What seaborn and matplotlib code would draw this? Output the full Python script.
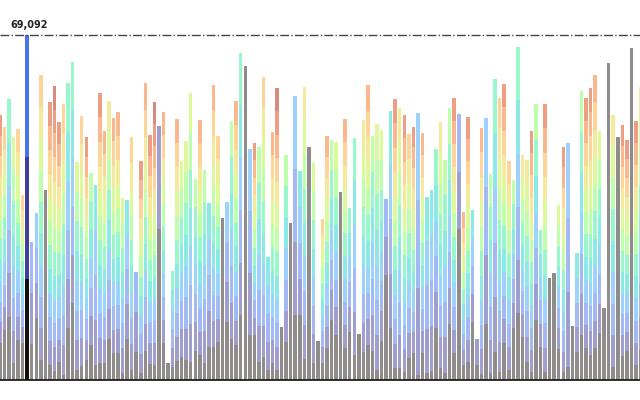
import numpy as np
import matplotlib
matplotlib.use("Agg")
import matplotlib.pyplot as plt
import matplotlib.transforms as mtransforms
import seaborn as sns

sns.set_theme(style="white")
plt.rcParams['font.family'] = ['DejaVu Sans']

# ==================== Data (values in thousands) ====================
# total height of each bar
bar_total = [53.1, 50.7, 56.3, 48.7, 50.3, 37.1, 69.092, 27.6, 33.4, 61.1,
             38.1, 55.7, 58.9, 51.7, 55.3, 59.5, 63.7, 43.7, 52.9, 48.7,
             41.5, 39.1, 57.5, 49.9, 55.9, 52.5, 53.7, 36.5, 36.1, 48.7,
             21.6, 43.9, 59.5, 49.1, 55.7, 50.9, 53.7, 3.4, 21.8, 52.3,
             43.9, 47.9, 57.5, 40.3, 52.1, 42.1, 35.5, 59.1, 48.9, 32.4,
             35.7, 51.9, 55.9, 65.5, 62.9, 46.3, 47.5, 46.7, 60.7, 24.6,
             49.7, 58.5, 10.6, 45.1, 31.4, 56.9, 41.9, 58.7, 46.7, 43.5,
             7.8, 32.3, 48.9, 48.1, 47.7, 37.7, 52.3, 34.5, 48.5, 9.2,
             52.1, 59.1, 48.9, 51.3, 50.1, 36.3, 53.9, 56.3, 54.5, 53.1,
             49.3, 50.7, 53.5, 49.5, 36.7, 38.1, 46.3, 51.7, 44.1, 54.5,
             56.5, 53.3, 33.6, 52.7, 34.1, 8.2, 50.5, 52.5, 41.3, 60.3,
             56.5, 59.3, 43.9, 40.1, 66.7, 45.1, 44.1, 49.9, 55.3, 30.0,
             55.3, 20.4, 21.4, 35.1, 46.7, 47.5, 10.8, 25.4, 57.9, 56.5,
             58.5, 61.1, 49.9, 14.4, 63.5, 53.1, 48.7, 51.1, 48.1, 66.5,
             51.9, 58.7]
# grey base segment of each bar
gray_base = [7.4, 10.0, 12.6, 3.4, 8.0, 7.4, 20.2, 7.2, 12.4, 4.0,
             38.1, 3.0, 1.8, 3.6, 1.0, 10.4, 15.4, 2.0, 2.8, 4.0,
             7.0, 3.0, 3.4, 3.4, 8.2, 5.4, 5.4, 1.4, 8.2, 2.0,
             5.6, 1.4, 5.8, 3.2, 3.0, 30.2, 7.4, 3.4, 2.6, 3.8,
             4.6, 4.0, 3.6, 5.8, 5.0, 3.4, 6.6, 6.6, 7.6, 32.4,
             11.6, 8.2, 7.0, 13.0, 62.9, 9.0, 9.0, 3.6, 4.6, 2.0,
             3.4, 2.0, 10.6, 7.6, 31.4, 13.0, 13.0, 4.2, 46.7, 3.4,
             7.8, 3.4, 6.4, 12.0, 9.0, 37.7, 6.4, 9.6, 5.0, 9.2,
             5.6, 7.0, 5.8, 2.0, 7.8, 21.0, 10.4, 2.4, 2.4, 1.6,
             4.4, 5.4, 1.0, 5.4, 1.4, 1.8, 10.4, 2.4, 1.4, 11.2,
             5.4, 30.2, 3.0, 3.6, 11.6, 3.0, 1.2, 11.2, 1.4, 5.6,
             1.6, 7.4, 2.0, 10.4, 13.4, 8.6, 3.6, 1.6, 12.0, 6.6,
             1.6, 20.4, 21.4, 6.2, 1.6, 2.6, 10.8, 5.6, 9.0, 6.4,
             5.0, 6.4, 9.4, 14.4, 63.5, 2.6, 48.7, 4.8, 5.8, 66.5,
             3.0, 6.0]
# number of coloured layers stacked above the grey base
n_layers = [11, 9, 5, 7, 9, 9, 2, 2, 3, 9, 0, 11, 12, 11, 9, 5, 5, 7,
            9, 11, 6, 4, 11, 10, 8, 10, 10, 7, 4, 9, 2, 11, 10, 11, 12, 1,
            10, 0, 5, 10, 7, 7, 7, 6, 10, 6, 4, 10, 9, 0, 3, 6, 10, 5,
            0, 3, 11, 6, 9, 4, 10, 12, 0, 6, 0, 3, 4, 8, 0, 7, 0, 9,
            10, 6, 7, 0, 10, 5, 5, 0, 8, 10, 6, 7, 7, 2, 4, 11, 8, 11,
            9, 11, 3, 10, 4, 4, 5, 8, 6, 6, 11, 2, 10, 11, 4, 1, 10, 3,
            6, 5, 9, 11, 9, 6, 5, 8, 8, 11, 6, 5, 11, 0, 0, 7, 11, 3,
            0, 4, 6, 11, 11, 10, 7, 0, 0, 8, 0, 11, 11, 0, 11, 8]
highlight = 6

# ==================== Build stacked layers ====================
n_bars = len(bar_total)
N_COL = 12
seg = np.zeros((n_bars, N_COL + 1))
for i in range(n_bars):
    seg[i, 0] = gray_base[i]
    if n_layers[i] > 0:
        seg[i, 1:n_layers[i] + 1] = (bar_total[i] - gray_base[i]) / n_layers[i]
cum = seg.cumsum(axis=1)

ALPHA = 0.5
cmap = plt.get_cmap('turbo')
turbo_cols = [np.array(cmap(t)[:3]) for t in np.linspace(0.06, 0.93, N_COL)]
pastel = [1 - ALPHA * (1 - c) for c in [np.array([0.13, 0.10, 0.10])] + turbo_cols]
strong = [np.array([0.07, 0.06, 0.06])] + turbo_cols

# ==================== Plot ====================
fig = plt.figure(figsize=(6.4, 4.0), dpi=100)
ax = fig.add_axes([0, 0.05, 1, 0.95])
idx = np.arange(n_bars)

for L in range(N_COL, -1, -1):
    pal = [tuple(strong[L]) if i == highlight else tuple(pastel[L]) for i in idx]
    sns.barplot(x=idx, y=cum[:, L], hue=idx, palette=pal, legend=False,
                width=0.77, saturation=1, errorbar=None, linewidth=0, ax=ax)

max_val = bar_total[highlight]
ymax = max_val * 380 / 345
ax.set_xlim(0.013, 140.89)
ax.set_ylim(0, ymax)
ax.axhline(max_val, color='#444444', linestyle='-.', linewidth=1)
trans = mtransforms.blended_transform_factory(ax.transAxes, ax.transData)
ax.text(10 / 640, max_val + ymax * 0.013, f'{round(max_val * 1000):,}', transform=trans,
        ha='left', va='bottom', fontsize=7, fontweight='bold', color='#222222')

for s in ['top', 'right', 'left']:
    ax.spines[s].set_visible(False)
ax.spines['bottom'].set_color('#111111')
ax.spines['bottom'].set_linewidth(1.2)
ax.set_xticks([])
ax.set_yticks([])
ax.set_xlabel('')
ax.set_ylabel('')

fig.savefig('out.png', dpi=100)
